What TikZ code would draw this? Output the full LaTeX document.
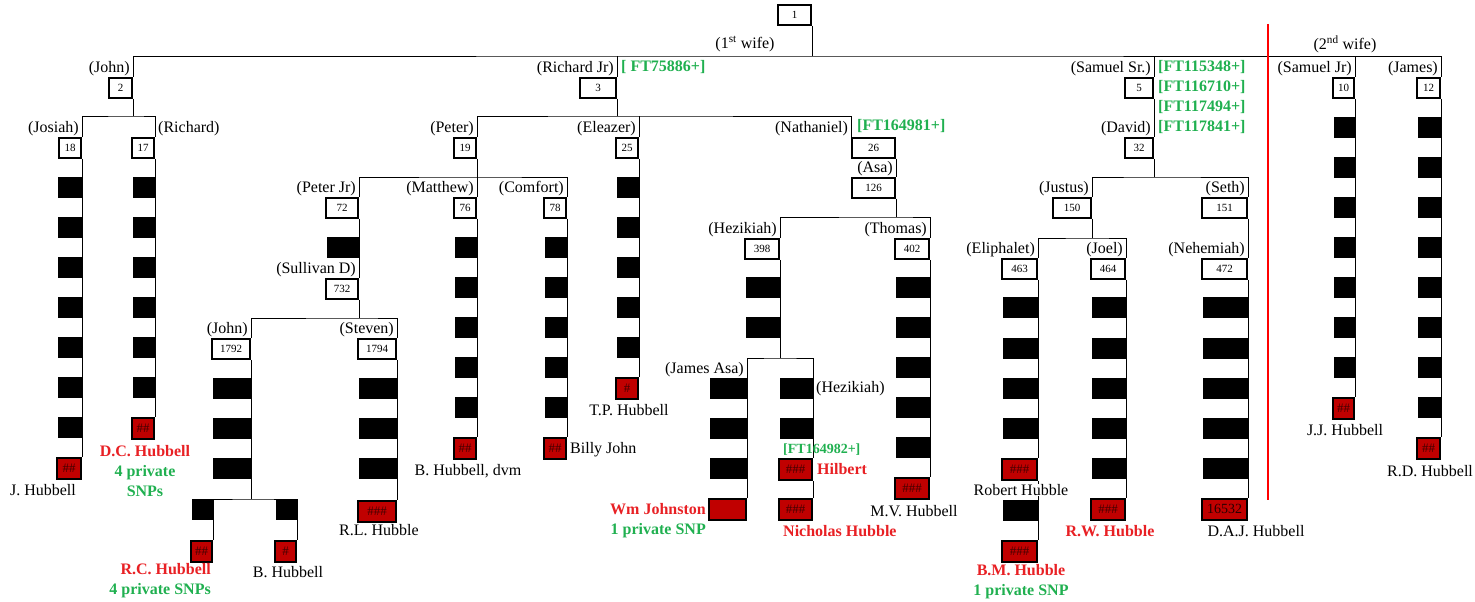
\documentclass[tikz,border=0pt]{standalone}
\usepackage{fontspec}
\setmainfont{Liberation Serif}
\usetikzlibrary{positioning,backgrounds}
\definecolor{snpred}{RGB}{192,0,0}
\definecolor{tagred}{RGB}{232,32,36}
\definecolor{taggreen}{RGB}{32,176,80}
\tikzset{
	tree/.style = {line width=2.2pt},
	num/.style = {draw, fill=white, line width=1.8pt, anchor=north east,
		minimum width=#1, minimum height=20pt, inner sep=0pt,
		font=\fontsize{11}{11}\selectfont},
	num/.default = 22pt,
	leaf/.style = {num=#1, fill=snpred, minimum height=21pt,
		text=black!65!snpred, font=\fontsize{13}{13}\selectfont},
	leaf/.default = 22pt,
	who/.style = {inner sep=1pt, font=\fontsize{16}{20}\selectfont},
	kid/.style = {inner sep=0pt, align=center, font=\fontsize{16}{20}\selectfont},
	hit/.style = {kid, text=tagred, font=\fontsize{16}{20}\selectfont\bfseries},
	ft/.style = {inner sep=0pt, text=taggreen, font=\fontsize{16}{20}\selectfont\bfseries},
}
% black marker boxes: right edge, width, tops
\newcommand{\mut}[3]{\foreach \yy in {#3} \fill (#1-#2,\yy) rectangle (#1,\yy+21);}

\begin{document}
\begin{tikzpicture}[x=1pt, y=-1pt]
\useasboundingbox (0,0) rectangle (1475,602);

% numbered boxes
\node[num=33pt] (n1) at (812,4) {1};
\node[num=23pt] (n2) at (133,77) {2};
\node[num=36pt] (n3) at (617,77) {3};
\node[num=28pt] (n5) at (1154,77) {5};
\node[num=21pt] (n10) at (1355,77) {10};
\node[num=23pt] (n12) at (1441,77) {12};
\node[num] (n18) at (82,137) {18};
\node[num] (n17) at (155,137) {17};
\node[num] (n19) at (477,137) {19};
\node[num] (n25) at (639,137) {25};
\node[num=43pt] (n26) at (896,137) {26};
\node[num=43pt] (n126) at (896,177) {126};
\node[num=28pt] (n32) at (1154,137) {32};
\node[num=32pt] (n72) at (359,197) {72};
\node[num] (n76) at (477,197) {76};
\node[num] (n78) at (567,197) {78};
\node[num=32pt] (n732) at (359,278) {732};
\node[num=38pt] (n1792) at (251,338) {1792};
\node[num=38pt] (n1794) at (397,338) {1794};
\node[num=34pt] (n398) at (780,238) {398};
\node[num=34pt] (n402) at (930,238) {402};
\node[num=38pt] (n150) at (1092,197) {150};
\node[num=45pt] (n151) at (1248,197) {151};
\node[num=35pt] (n463) at (1038,258) {463};
\node[num=34pt] (n464) at (1126,258) {464};
\node[num=45pt] (n472) at (1248,258) {472};

% red end boxes
\node[leaf=24pt] (jh) at (82,457) {\#\#};
\node[leaf] (dc) at (155,417) {\#\#};
\node[leaf=21pt] (rc) at (213,540) {\#\#};
\node[leaf=21pt] (bh) at (297,540) {\#};
\node[leaf=38pt] (rl) at (397,500) {\#\#\#};
\node[leaf] (bhd) at (477,437) {\#\#};
\node[leaf] (billy) at (567,437) {\#\#};
\node[leaf] (tp) at (639,377) {\#};
\node[leaf=37pt] (wmj) at (747,498) {};
\node[leaf=33pt] (hil) at (813,458) {\#\#\#};
\node[leaf=33pt] (nic) at (813,498) {\#\#\#};
\node[leaf=34pt] (mv) at (930,477) {\#\#\#};
\node[leaf=35pt] (rob) at (1038,458) {\#\#\#};
\node[leaf=35pt] (bm) at (1038,540) {\#\#\#};
\node[leaf=34pt] (rw) at (1126,498) {\#\#\#};
\node[leaf=45pt, text=black!80!snpred, font=\fontsize{14}{14}\selectfont] (daj) at (1248,498) {16532};
\node[leaf=21pt] (jj) at (1355,397) {\#\#};
\node[leaf=23pt] (rd) at (1441,437) {\#\#};

% black markers
\mut{82}{24}{177,217,...,417}
\mut{155}{22}{177,217,...,377}
\mut{359}{32}{237}
\mut{251}{38}{378,418,458}
\mut{213}{21}{499}
\mut{297}{21}{499}
\mut{397}{38}{378,418,458}
\mut{477}{22}{237,277,...,397}
\mut{567}{22}{237,277,...,397}
\mut{639}{22}{177,217,...,337}
\mut{780}{34}{277,317}
\mut{747}{37}{378,418,458}
\mut{813}{33}{378,418}
\mut{930}{34}{277,317,...,437}
\mut{1038}{35}{297,338,378,418,500}
\mut{1126}{34}{297,338,378,418,458}
\mut{1248}{45}{297,338,378,418,458}
\mut{1355}{21}{117,157,...,357}
\mut{1441}{23}{117,157,...,397}

% junctions
\coordinate (j1) at (812,56);
\coordinate (j2) at (133,116);
\coordinate (j3) at (617,116);
\coordinate (j19) at (477,177);
\coordinate (j732) at (359,318);
\coordinate (j1792) at (251,499);
\coordinate (j126) at (896,217);
\coordinate (j398) at (780,358);
\coordinate (j32) at (1154,177);
\coordinate (j150) at (1092,238);

\begin{scope}[on background layer, tree]
\draw (n1.south east) -- (j1);
\draw (n2.north east) |- (j1) -| (n12.north east);
\foreach \k in {n3,n5,n10} \draw (\k.north east) -- (\k.north east |- j1);
\draw (n2.south east) -- (j2);
\draw (n18.north east) |- (j2) -| (n17.north east);
\draw (n18.south east) -- (jh.north east);
\draw (n17.south east) -- (dc.north east);
\draw (n3.south east) -- (j3);
\draw (n19.north east) |- (j3) -| (n26.north west);
\draw (n25.north east) -- (n25.north east |- j3);
\draw (n19.south east) -- (j19);
\draw (n72.north east) |- (j19) -| (n78.north east);
\draw (n76.north east) -- (j19);
\draw (n72.south east) -- (n732.north east);
\draw (n732.south east) -- (j732);
\draw (n1792.north east) |- (j732) -| (n1794.north east);
\draw (n1792.south east) -- (j1792);
\draw (rc.north east) |- (j1792) -| (bh.north east);
\draw (n1794.south east) -- (rl.north east);
\draw (n76.south east) -- (bhd.north east);
\draw (n78.south east) -- (billy.north east);
\draw (n25.south east) -- (tp.north east);
\draw (n26.south east) -- (n126.north east);
\draw (n126.south east) -- (j126);
\draw (n398.north east) |- (j126) -| (n402.north east);
\draw (n398.south east) -- (j398);
\draw (wmj.north east) |- (j398) -| (hil.north east);
\draw (hil.south east) -- (nic.north east);
\draw (n402.south east) -- (mv.north east);
\draw (n5.south east) -- (n32.north east);
\draw (n32.south east) -- (j32);
\draw (n150.north east) |- (j32) -| (n151.north east);
\draw (n150.south east) -- (j150);
\draw (n463.north east) |- (j150) -| (n464.north east);
\draw (n463.south east) -- (rob.north east);
\draw (rob.south east) -- (bm.north east);
\draw (n464.south east) -- (rw.north east);
\draw (n151.south east) -- (n472.north east);
\draw (n472.south east) -- (daj.north east);
\draw (n10.south east) -- (jj.north east);
\draw (n12.south east) -- (rd.north east);
\end{scope}

% wife divider
\draw[red, line width=2pt] (1268,24) -- (1268,500);
\node[who] (w1) at (745,44) {(1\textsuperscript{st} wife)};
\node[who] (w2) at (1345,44) {(2\textsuperscript{nd} wife)};

% names
\foreach \k/\t in {n2/John, n3/Richard Jr, n5/Samuel Sr., n10/Samuel Jr, n12/James,
	n18/Josiah, n19/Peter, n25/Eleazer, n126/Asa, n32/David, n72/Peter Jr,
	n76/Matthew, n78/Comfort, n732/Sullivan D, n1792/John, n1794/Steven,
	n398/Hezikiah, n402/Thomas, n150/Justus, n151/Seth, n463/Eliphalet,
	n464/Joel, n472/Nehemiah}
	\node[who, anchor=south east] at ([xshift=-2pt]\k.north east) {(\t)};
\node[who, anchor=south west] (lrich) at ([xshift=2pt]n17.north east) {(Richard)};
\node[who, anchor=south east] (lnath) at ([xshift=-2pt]n26.north west) {(Nathaniel)};
\node[who, anchor=south east] (ljasa) at (745,378) {(James Asa)};
\node[who, anchor=west] (lhez) at (815,389) {(Hezikiah)};

% kit numbers
\node[ft, anchor=west] (ft1) at (621,67) {[ FT75886+]};
\node[ft, anchor=west] (ft2) at (857,126) {[FT164981+]};
\node[ft, anchor=west] (ft3) at (1158,67) {[FT115348+]};
\node[ft, anchor=west] (ft4) at (1158,87) {[FT116710+]};
\node[ft, anchor=west] (ft5) at (1158,107) {[FT117494+]};
\node[ft, anchor=west] (ft6) at (1158,127) {[FT117841+]};
\node[ft, anchor=west, font=\fontsize{14}{16}\selectfont\bfseries] (ft7) at (783,450) {[FT164982+]};

% descendants
\node[kid] (ljh) at (43,490) {J. Hubbell};
\node[kid, text=taggreen, font=\fontsize{16}{20}\selectfont\bfseries] (ldc) at (145,471)
	{\textcolor{tagred}{D.C. Hubbell}\\4 private\\SNPs};
\node[kid, align=right, anchor=east, text=taggreen, font=\fontsize{16}{20}\selectfont\bfseries] (lrc) at (211,581)
	{\textcolor{tagred}{R.C. Hubbell}\\4 private SNPs};
\node[kid] (lbh) at (288,572) {B. Hubbell};
\node[kid] (lrl) at (379,530) {R.L. Hubble};
\node[kid] (lbhd) at (468,471) {B. Hubbell, dvm};
\node[kid, anchor=west] (lbilly) at (570,450) {Billy John};
\node[kid] (ltp) at (629,410) {T.P. Hubbell};
\node[kid, align=right, anchor=east, text=taggreen, font=\fontsize{16}{20}\selectfont\bfseries] (lwmj) at (706,521)
	{\textcolor{tagred}{Wm Johnston}\\1 private SNP};
\node[hit, anchor=west] (lhil) at (817,469) {Hilbert};
\node[hit, anchor=west] (lnic) at (783,531) {Nicholas Hubble};
\node[kid] (lmv) at (914,511) {M.V. Hubbell};
\node[kid, fill=white, inner sep=0.5pt] (lrob) at (1021,490) {Robert Hubble};
\node[kid, text=taggreen, font=\fontsize{16}{20}\selectfont\bfseries] (lbm) at (1021,582)
	{\textcolor{tagred}{B.M. Hubble}\\1 private SNP};
\node[hit] (lrw) at (1110,531) {R.W. Hubble};
\node[kid] (ldaj) at (1256,531) {D.A.J. Hubbell};
\node[kid] (ljj) at (1345,430) {J.J. Hubbell};
\node[kid] (lrd) at (1430,471) {R.D. Hubbell};
\end{tikzpicture}
\end{document}
